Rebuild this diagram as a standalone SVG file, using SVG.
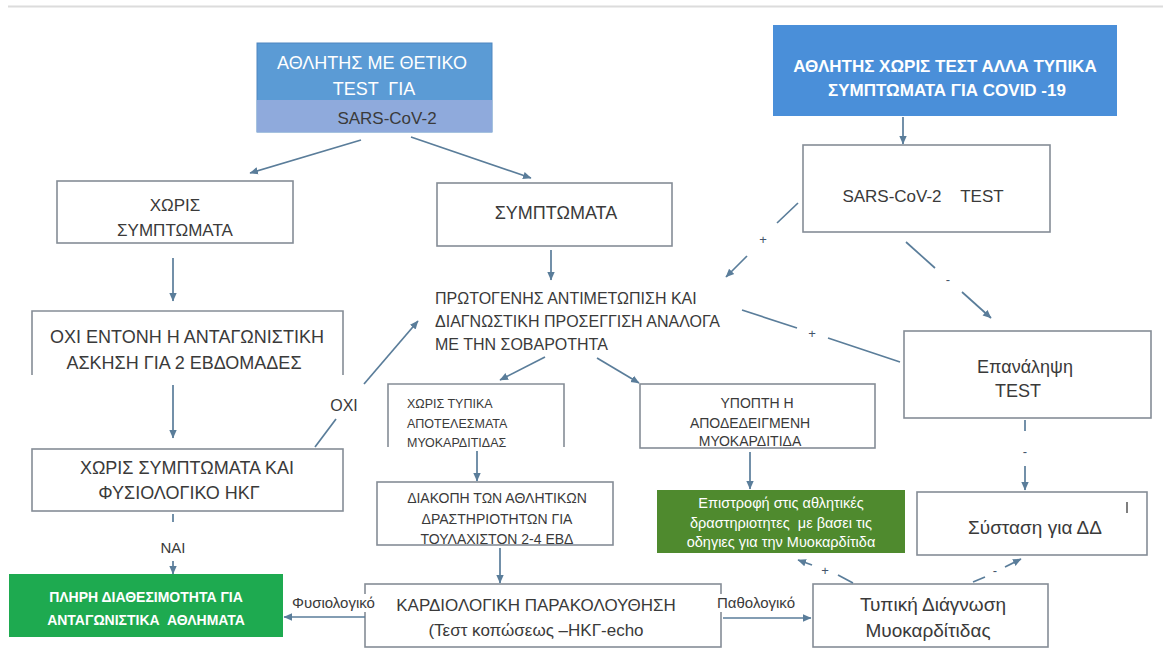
<svg xmlns="http://www.w3.org/2000/svg" width="1163" height="661" viewBox="0 0 1163 661">
<style>
text{font-family:"Liberation Sans",Arial,sans-serif;fill:#3a3a3a}
.box{fill:#fff;stroke:#858d96;stroke-width:1.6}
.open{fill:none;stroke:#858d96;stroke-width:1.6}
.c{text-anchor:middle}
.w{fill:#fff}
.ln{fill:none;stroke:#5a7d9a;stroke-width:1.7}
.arr{marker-end:url(#ah)}
.sgn{font-size:13px;text-anchor:middle;fill:#44546a}
</style>
<defs>
<marker id="ah" markerUnits="userSpaceOnUse" markerWidth="9" markerHeight="9" refX="8" refY="4.5" orient="auto">
<path d="M0,0.8 L8.5,4.5 L0,8.2 z" fill="#5a7d9a"/>
</marker>
</defs>
<rect width="1163" height="661" fill="#fff"/>
<line x1="8" y1="6.5" x2="1163" y2="6.5" stroke="#dcdcdc" stroke-width="2"/>

<g id="node-positive-test">
<rect x="257" y="43" width="235" height="89" fill="#5b9bd5" stroke="#4f86bf" stroke-width="1"/>
<rect x="257" y="100" width="235" height="32" fill="#8faadc"/>
<text class="c w" x="372" y="69" font-size="18">ΑΘΛΗΤΗΣ ΜΕ ΘΕΤΙΚΟ</text>
<text class="c w" x="374" y="95" font-size="18" style="white-space:pre">TEST  ΓΙΑ</text>
<text class="c" x="387" y="124" font-size="17">SARS-CoV-2</text>
</g>

<g id="node-no-test">
<rect x="773" y="25" width="344" height="91" fill="#4a8fd9"/>
<text class="c w" x="945" y="72" font-size="17" font-weight="bold">ΑΘΛΗΤΗΣ ΧΩΡΙΣ ΤΕΣΤ ΑΛΛΑ ΤΥΠΙΚΑ</text>
<text class="c w" x="947" y="96" font-size="17" font-weight="bold">ΣΥΜΠΤΩΜΑΤΑ ΓΙΑ COVID -19</text>
</g>

<g id="node-sars-test">
<rect class="box" x="803" y="145" width="247" height="87"/>
<text class="c" x="923" y="202" font-size="17" style="white-space:pre">SARS-CoV-2    TEST</text>
</g>

<g id="node-no-symptoms">
<rect class="box" x="57" y="181" width="236" height="62"/>
<text class="c" x="175" y="211" font-size="17">ΧΩΡΙΣ</text>
<text class="c" x="175" y="236" font-size="17">ΣΥΜΠΤΩΜΑΤΑ</text>
</g>

<g id="node-symptoms">
<rect class="box" x="437" y="183" width="235" height="63"/>
<text class="c" x="556" y="219" font-size="18">ΣΥΜΠΤΩΜΑΤΑ</text>
</g>

<g id="node-no-exercise">
<path class="open" d="M32,375 V311 H343 V375"/>
<text class="c" x="187" y="343" font-size="18">ΟΧΙ ΕΝΤΟΝΗ Η ΑΝΤΑΓΩΝΙΣΤΙΚΗ</text>
<text class="c" x="184" y="369" font-size="18">ΑΣΚΗΣΗ ΓΙΑ 2 ΕΒΔΟΜΑΔΕΣ</text>
</g>

<g id="node-normal-ecg">
<rect class="box" x="32" y="449" width="311" height="62"/>
<text class="c" x="187" y="474" font-size="18">ΧΩΡΙΣ ΣΥΜΠΤΩΜΑΤΑ ΚΑΙ</text>
<text class="c" x="179" y="499" font-size="18">ΦΥΣΙΟΛΟΓΙΚΟ ΗΚΓ</text>
</g>

<g id="node-full-availability">
<rect x="9" y="574" width="274" height="63" fill="#1eaa50"/>
<text class="c w" x="146" y="602" font-size="14" font-weight="bold">ΠΛΗΡΗ ΔΙΑΘΕΣΙΜΟΤΗΤΑ ΓΙΑ</text>
<text class="c w" x="146" y="625" font-size="14" font-weight="bold" style="white-space:pre">ΑΝΤΑΓΩΝΙΣΤΙΚΑ  ΑΘΛΗΜΑΤΑ</text>
</g>

<g id="node-primary-treatment">
<text x="435" y="304" font-size="16">ΠΡΩΤΟΓΕΝΗΣ ΑΝΤΙΜΕΤΩΠΙΣΗ ΚΑΙ</text>
<text x="435" y="327" font-size="16">ΔΙΑΓΝΩΣΤΙΚΗ ΠΡΟΣΕΓΓΙΣΗ ΑΝΑΛΟΓΑ</text>
<text x="435" y="350" font-size="16">ΜΕ ΤΗΝ ΣΟΒΑΡΟΤΗΤΑ</text>
</g>

<g id="node-no-typical">
<path class="open" d="M388,447 V384 H564 V447"/>
<text x="407" y="408" font-size="12.5">ΧΩΡΙΣ ΤΥΠΙΚΑ</text>
<text x="407" y="428" font-size="12.5">ΑΠΟΤΕΛΕΣΜΑΤΑ</text>
<text x="407" y="447" font-size="12.5">ΜΥΟΚΑΡΔΙΤΙΔΑΣ</text>
</g>

<g id="node-suspected">
<rect class="box" x="640" y="384" width="235" height="64"/>
<text class="c" x="757" y="408" font-size="14">ΥΠΟΠΤΗ Η</text>
<text class="c" x="750" y="428" font-size="14">ΑΠΟΔΕΔΕΙΓΜΕΝΗ</text>
<text class="c" x="750" y="446" font-size="14">ΜΥΟΚΑΡΔΙΤΙΔΑ</text>
</g>

<g id="node-repeat-test">
<rect class="box" x="904" y="331" width="247" height="87"/>
<text class="c" x="1025" y="373" font-size="18">Επανάληψη</text>
<text class="c" x="1018" y="397" font-size="18">TEST</text>
</g>

<g id="node-stop-activities">
<rect class="box" x="377" y="482" width="236" height="63"/>
<text class="c" x="497" y="503" font-size="14">ΔΙΑΚΟΠΗ ΤΩΝ ΑΘΛΗΤΙΚΩΝ</text>
<text class="c" x="497" y="524" font-size="14">ΔΡΑΣΤΗΡΙΟΤΗΤΩΝ ΓΙΑ</text>
<text class="c" x="497" y="544" font-size="14">ΤΟΥΛΑΧΙΣΤΟΝ 2-4 ΕΒΔ</text>
</g>

<g id="node-return">
<rect x="657" y="490" width="248" height="63" fill="#4f8a2e"/>
<text class="c w" x="781" y="508" font-size="14.5">Επιστροφή στις αθλητικές</text>
<text class="c w" x="781" y="528" font-size="14.5" style="white-space:pre">δραστηριοτητες  με βασει τις</text>
<text class="c w" x="781" y="547" font-size="14.5">οδηγιες για την Μυοκαρδίτιδα</text>
</g>

<g id="node-dd">
<rect class="box" x="917" y="492" width="230" height="63"/>
<text class="c" x="1035" y="534" font-size="19">Σύσταση για ΔΔ</text>
<line x1="1127" y1="502" x2="1127" y2="513" stroke="#555" stroke-width="1.5"/>
</g>

<g id="node-cardio">
<rect class="box" x="365" y="584" width="356" height="63"/>
<text class="c" x="536" y="611" font-size="17">ΚΑΡΔΙΟΛΟΓΙΚΗ ΠΑΡΑΚΟΛΟΥΘΗΣΗ</text>
<text class="c" x="536" y="636" font-size="17">(Τεστ κοπώσεως –ΗΚΓ-echo</text>
</g>

<g id="node-typical-diagnosis">
<rect class="box" x="813" y="584" width="235" height="63"/>
<text class="c" x="933" y="611" font-size="19">Τυπική Διάγνωση</text>
<text class="c" x="928" y="637" font-size="19">Μυοκαρδίτιδας</text>
</g>

<g id="connectors">
<line class="ln arr" x1="361" y1="140" x2="250" y2="173"/>
<line class="ln arr" x1="411" y1="137" x2="531" y2="178"/>
<line class="ln arr" x1="903" y1="117" x2="903" y2="144"/>
<line class="ln arr" x1="173" y1="258" x2="173" y2="301"/>
<line class="ln arr" x1="173" y1="385" x2="173" y2="438"/>
<line class="ln" x1="173" y1="514" x2="173" y2="522"/>
<text class="c" x="173" y="553" font-size="15">ΝΑΙ</text>
<line class="ln arr" x1="173" y1="561" x2="173" y2="574"/>
<line class="ln" x1="315" y1="447" x2="336" y2="419"/>
<text class="c" x="344" y="411" font-size="16">ΟΧΙ</text>
<line class="ln arr" x1="364" y1="384" x2="418" y2="321"/>
<line class="ln arr" x1="551" y1="250" x2="551" y2="280"/>
<line class="ln arr" x1="545" y1="357" x2="500" y2="380"/>
<line class="ln arr" x1="597" y1="358" x2="639" y2="383"/>
<line class="ln arr" x1="477" y1="451" x2="477" y2="481"/>
<line class="ln arr" x1="500" y1="548" x2="500" y2="583"/>
<line class="ln arr" x1="750" y1="452" x2="750" y2="489"/>
<line class="ln" x1="798" y1="203" x2="777" y2="223"/>
<text class="sgn" x="763" y="244">+</text>
<line class="ln arr" x1="747" y1="256" x2="726" y2="277"/>
<line class="ln" x1="906" y1="242" x2="935" y2="268"/>
<text class="sgn" x="948" y="284">-</text>
<line class="ln arr" x1="962" y1="292" x2="991" y2="318"/>
<line class="ln" x1="742" y1="310" x2="797" y2="328"/>
<text class="sgn" x="812" y="338">+</text>
<line class="ln" x1="828" y1="338" x2="900" y2="362"/>
<line class="ln" x1="1025" y1="420" x2="1025" y2="431"/>
<text class="sgn" x="1025" y="456">-</text>
<line class="ln arr" x1="1025" y1="466" x2="1025" y2="490"/>
<line class="ln" x1="853" y1="583" x2="838" y2="575"/>
<text class="sgn" x="825" y="575">+</text>
<line class="ln arr" x1="812" y1="565" x2="798" y2="560"/>
<line class="ln" x1="973" y1="582" x2="985" y2="577"/>
<text class="sgn" x="995" y="575">-</text>
<line class="ln arr" x1="1005" y1="567" x2="1021" y2="559"/>
<line class="ln arr" x1="365" y1="617" x2="284" y2="617"/>
<rect x="289" y="594" width="94" height="18" fill="#fff"/>
<text x="292" y="608" font-size="15">Φυσιολογικό</text>
<line class="ln arr" x1="723" y1="618" x2="811" y2="618"/>
<rect x="715" y="594" width="85" height="18" fill="#fff"/>
<text x="717" y="608" font-size="15">Παθολογικό</text>
</g>
</svg>
